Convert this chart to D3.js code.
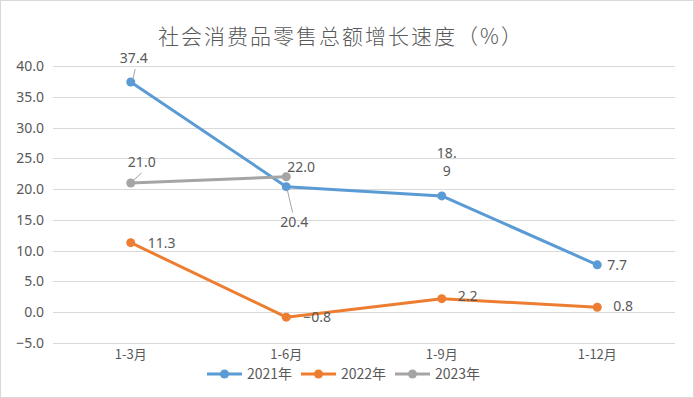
<!DOCTYPE html>
<html>
<head>
<meta charset="utf-8">
<script src="https://cdn.jsdelivr.net/npm/d3@7"></script>
<style>
  body { margin: 0; background: #fff; }
  text { font-family: "Noto Sans CJK SC", "Noto Sans", sans-serif; fill: #595959; }
</style>
</head>
<body>
<svg></svg>
<script>
var width = 694;
var height = 398;

var categories = ["1-3月", "1-6月", "1-9月", "1-12月"];
var seriesNames = ["2021年", "2022年", "2023年"];
var values2021 = [37.4, 20.4, 18.9, 7.7];
var values2022 = [11.3, -0.8, 2.2, 0.8];
var values2023 = [21.0, 22.0];
var yTicks = [-5, 0, 5, 10, 15, 20, 25, 30, 35, 40];

var colors = ["#5b9bd5", "#ed7d31", "#a5a5a5"];

// label placement per point: [dx, dy, anchor, leader line?]
var labelPos = [
  [[3, -19, "middle", true], [8, 40, "middle", true], [5, -38, "middle", false], [10, 5, "start", false]],
  [[17, 5, "start", false], [17, 5, "start", false], [16, 2, "start", false], [16, 4, "start", false]],
  [[11, -16, "middle", true], [1, -5, "start", false]]
];

var series = [values2021, values2022, values2023].map(function(v, i){
  return { name: seriesNames[i], color: colors[i], values: v, labels: labelPos[i] };
});

var svg = d3.select("svg")
  .attr("width", width)
  .attr("height", height);

svg.append("rect")
  .attr("x", 0.5).attr("y", 0.5)
  .attr("width", width - 1).attr("height", height - 1)
  .attr("fill", "#fff").attr("stroke", "#d9d9d9");

var x = d3.scaleBand().domain(categories).range([53, 675]);
var y = d3.scaleLinear().domain([-5, 40]).range([343, 66]);

svg.append("text")
  .attr("x", 341).attr("y", 44)
  .attr("text-anchor", "middle")
  .attr("font-size", 21)
  .attr("font-weight", 300)
  .style("letter-spacing", "2px")
  .text("社会消费品零售总额增长速度（%）");

// gridlines
svg.append("g").selectAll("line")
  .data(yTicks)
  .enter().append("line")
  .attr("x1", 53).attr("x2", 675)
  .attr("y1", function(d){ return Math.round(y(d)) + 0.5; })
  .attr("y2", function(d){ return Math.round(y(d)) + 0.5; })
  .attr("stroke", "#d9d9d9").attr("stroke-width", 1);

var yAxis = svg.append("g")
  .attr("transform", "translate(44,0)")
  .call(d3.axisLeft(y).tickValues(yTicks).tickFormat(d3.format(".1f")).tickSize(0).tickPadding(0));
yAxis.select(".domain").remove();
yAxis.selectAll("text").attr("font-size", 14).style("font-family", "'Noto Sans', sans-serif").attr("fill", "#595959");

var xAxis = svg.append("g")
  .attr("transform", "translate(0,350)")
  .call(d3.axisBottom(x).tickSize(0).tickPadding(0));
xAxis.select(".domain").remove();
xAxis.selectAll("text").attr("font-size", 13).attr("fill", "#595959");

var line = d3.line()
  .x(function(d, i){ return x(categories[i]) + x.bandwidth() / 2; })
  .y(function(d){ return y(d); });

series.forEach(function(s){
  var g = svg.append("g");
  g.append("path")
    .attr("d", line(s.values))
    .attr("fill", "none")
    .attr("stroke", s.color)
    .attr("stroke-width", 3)
    .attr("stroke-linejoin", "round");
  g.selectAll("circle")
    .data(s.values)
    .enter().append("circle")
    .attr("cx", function(d, i){ return x(categories[i]) + x.bandwidth() / 2; })
    .attr("cy", function(d){ return y(d); })
    .attr("r", 4.5)
    .attr("fill", s.color);
});

series.forEach(function(s){
  s.values.forEach(function(v, i){
    var px = x(categories[i]) + x.bandwidth() / 2;
    var py = y(v);
    var p = s.labels[i];
    var tx = px + p[0], ty = py + p[1];
    if (p[3]) {
      var ly = p[1] < 0 ? ty + 6 : ty - 14;
      svg.append("line")
        .attr("x1", px + (p[1] < 0 ? 2 : 1)).attr("y1", py + (p[1] < 0 ? -2 : 3))
        .attr("x2", px + p[0] * 0.8 + (p[1] < 0 ? 2 : 0)).attr("y2", ly)
        .attr("stroke", "#a5a5a5").attr("stroke-width", 1);
    }
    var label = d3.format(".1f")(v);
    var t = svg.append("text")
      .attr("x", tx).attr("y", ty)
      .attr("text-anchor", p[2])
      .attr("font-size", 14)
      .style("font-family", "'Noto Sans', sans-serif");
    if (s.name === "2021年" && i === 2) {
      // wrapped label, as in the original
      t.text(label.slice(0, 3));
      svg.append("text")
        .attr("x", tx).attr("y", ty + 18)
        .attr("text-anchor", p[2])
        .attr("font-size", 14)
        .style("font-family", "'Noto Sans', sans-serif")
        .text(label.slice(3));
    } else {
      t.text(label);
    }
  });
});

// legend
var legendX = [207, 301, 395];
var legend = svg.append("g").selectAll("g")
  .data(series)
  .enter().append("g")
  .attr("transform", function(d, i){ return "translate(" + legendX[i] + ",374)"; });
legend.append("line")
  .attr("x1", 0).attr("x2", 35)
  .attr("stroke", function(d){ return d.color; })
  .attr("stroke-width", 3);
legend.append("circle")
  .attr("cx", 17.5).attr("r", 4.5)
  .attr("fill", function(d){ return d.color; });
legend.append("text")
  .attr("x", 40).attr("y", 5)
  .attr("font-size", 14)
  .text(function(d){ return d.name; });
</script>
</body>
</html>
